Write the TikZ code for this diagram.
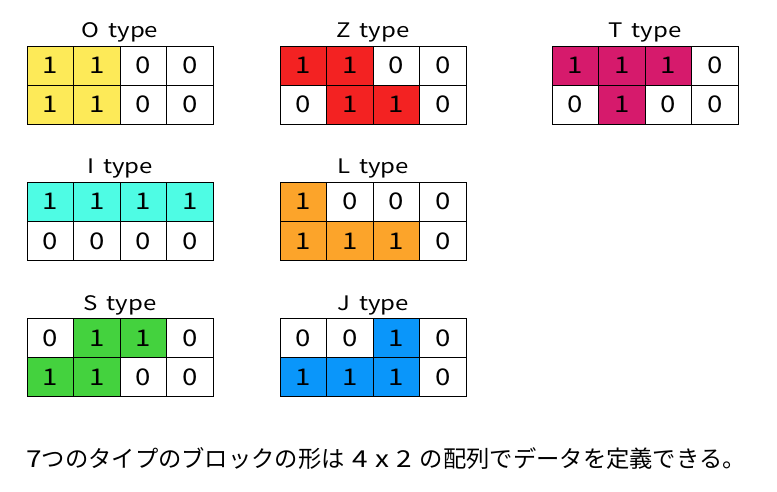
\documentclass[tikz,border=0pt]{standalone}
\usepackage{fontspec}
\setmainfont{Noto Sans CJK JP}
\newfontfamily\widefont[FakeStretch=1.2]{Noto Sans CJK JP}
\usepackage{xcolor}

\definecolor{otype}{RGB}{253,234,88}
\definecolor{ztype}{RGB}{243,34,34}
\definecolor{ttype}{RGB}{214,26,108}
\definecolor{itype}{RGB}{78,252,228}
\definecolor{ltype}{RGB}{252,164,42}
\definecolor{stype}{RGB}{68,210,62}
\definecolor{jtype}{RGB}{10,150,250}

\tikzset{
  cell/.style={draw=black, line width=0.8pt, minimum width=46.5pt, minimum height=39pt,
    inner sep=0pt, outer sep=0pt},
  digit/.style={anchor=base, inner sep=0pt, font=\widefont\fontsize{23}{23}\selectfont},
  title/.style={anchor=base, inner sep=0pt, font=\widefont\fontsize{20}{20}\selectfont},
  caption/.style={anchor=base, inner sep=0pt, font=\fontsize{23.3}{23.3}\selectfont}
}

% #1 name, #2 left, #3 top, #4 colour, #5 upper row, #6 lower row
\newcommand{\blocktype}[6]{%
  \node[title] (#1-title) at (#2+93, #3-8) {#1\hspace{0.45em}type};
  \foreach \v [count=\c] in {#5} {
    \ifnum\v=1 \def\fc{#4}\else\def\fc{white}\fi
    \node[cell, fill=\fc] (#1-a\c) at (#2+46.5*\c-23.25, #3+19.5) {};
    \node[digit] (#1-a\c-v) at ([yshift=-8.5pt]#1-a\c.center) {\v};
  }
  \foreach \v [count=\c] in {#6} {
    \ifnum\v=1 \def\fc{#4}\else\def\fc{white}\fi
    \node[cell, fill=\fc] (#1-b\c) at (#2+46.5*\c-23.25, #3+58.5) {};
    \node[digit] (#1-b\c-v) at ([yshift=-8.5pt]#1-b\c.center) {\v};
  }
}

\begin{document}
\begin{tikzpicture}[x=1pt, y=-1pt]
  \useasboundingbox[fill=white] (0,0) rectangle (777,492);

  % first row
  \blocktype{O}{27}{46}{otype}{1,1,0,0}{1,1,0,0}
  \blocktype{Z}{280}{46}{ztype}{1,1,0,0}{0,1,1,0}
  \blocktype{T}{552}{46}{ttype}{1,1,1,0}{0,1,0,0}
  % second row
  \blocktype{I}{27}{182}{itype}{1,1,1,1}{0,0,0,0}
  \blocktype{L}{280}{182}{ltype}{1,0,0,0}{1,1,1,0}
  % third row
  \blocktype{S}{27}{318}{stype}{0,1,1,0}{1,1,0,0}
  \blocktype{J}{280}{318}{jtype}{0,0,1,0}{1,1,1,0}

  \node[caption] (note) at (386,467) {{\widefont 7}つのタイプのブロックの形は\hspace{0.35em}{\widefont 4\hspace{0.3em}x\hspace{0.3em}2}\hspace{0.35em}の配列でデータを定義できる。};
\end{tikzpicture}
\end{document}
